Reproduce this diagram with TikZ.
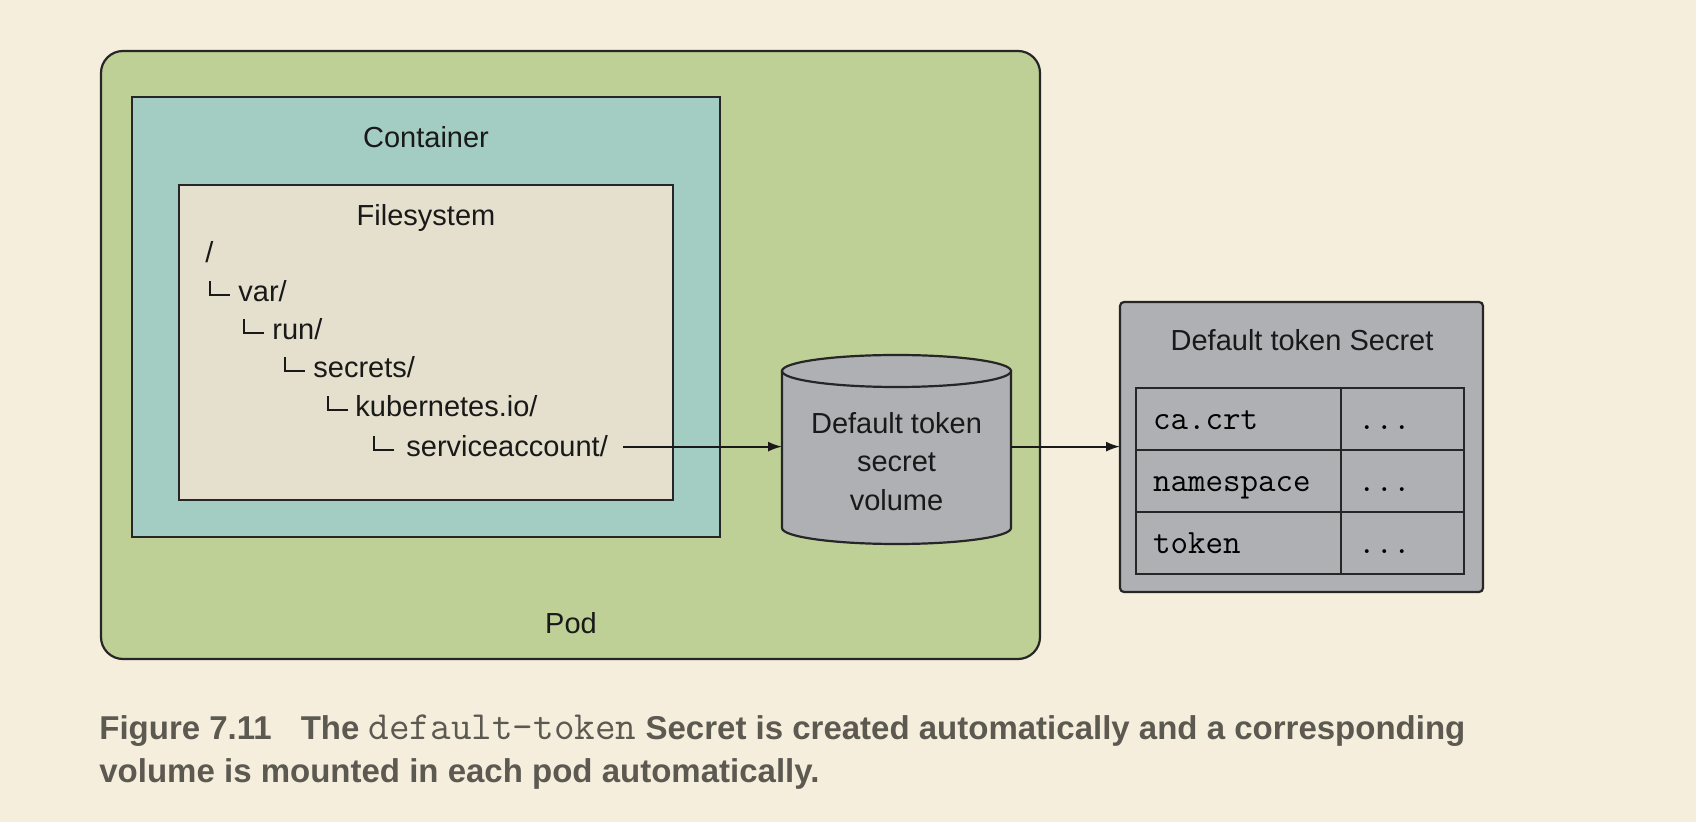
\documentclass[tikz,border=0pt]{standalone}
\usepackage{fontspec}
\setmainfont{Liberation Sans}
\usepackage{xcolor}
\usetikzlibrary{arrows.meta, positioning}

\definecolor{paper}{HTML}{F5EEDD}
\definecolor{podgreen}{HTML}{BED095}
\definecolor{ctrteal}{HTML}{A3CCC2}
\definecolor{fsbeige}{HTML}{E5E0CD}
\definecolor{secgrey}{HTML}{AEB0B4}
\definecolor{capgrey}{HTML}{5C5951}

% tree elbow, then the gap to the name
\newcommand{\elbow}[1][14.5pt]{\makebox[#1][l]{\rule[3pt]{0.9pt}{7.5pt}\rule[3pt]{9.5pt}{0.9pt}}}

\begin{document}
\begin{tikzpicture}[
  x=0.5pt, y=-0.5pt,
  frame/.style = {draw=black!85, line width=1.1pt, inner sep=0pt, outer sep=0pt, anchor=north west},
  lbl/.style   = {font=\fontsize{14.5}{19.25}\selectfont, text=black!90, inner sep=0pt},
  entry/.style = {lbl, anchor=base west},
  cell/.style  = {draw=black!85, line width=1pt, outer sep=0pt, inner xsep=8.5pt, inner ysep=0pt,
                  minimum height=31pt, text height=12pt, text depth=1pt, align=left,
                  font=\ttfamily\fontsize{17}{18}\selectfont},
  link/.style  = {-{Latex[length=7pt,width=5pt]}, line width=0.9pt, draw=black!90}
]
  \fill[paper] (0,0) rectangle (1696,822);
  \useasboundingbox (0,0) rectangle (1696,822);

  % pod, container, filesystem
  \node[frame, fill=podgreen, rounded corners=11pt, minimum width=469.5pt, minimum height=304pt] (pod) at (101,51) {};
  \node[frame, fill=ctrteal, minimum width=294pt, minimum height=220pt]   (ctr) at (132,97) {};
  \node[frame, fill=fsbeige, minimum width=247pt, minimum height=157.5pt] (fs)  at (179,185) {};

  \node[lbl] (podlbl) at (571,623) {Pod};
  \node[lbl] (ctrlbl) at (426,137) {Container};
  \node[lbl] (fslbl)  at (426,218) {Filesystem};

  \node[entry] (root) at (205,263) {/};
  \node[entry] (var)  at (209,302) {\elbow var/};
  \node[entry] (run)  at (243,340) {\elbow run/};
  \node[entry] (sec)  at (284,378) {\elbow secrets/};
  \node[entry] (kube) at (327,417) {\elbow[14pt]kubernetes.io/};
  \node[entry] (svc)  at (373,457) {\elbow[16.5pt]serviceaccount/};

  % secret volume
  \node[minimum width=114.5pt, minimum height=78.5pt, inner sep=0pt, outer sep=0pt] (vol) at (896.5,449.5) {};
  \draw[line width=1.1pt, draw=black!85, fill=secgrey]
    (vol.north west) -- (vol.south west)
    arc[start angle=180, end angle=360, x radius=57.25pt, y radius=8pt]
    -- (vol.north east) -- cycle;
  \draw[line width=1.1pt, draw=black!85, fill=secgrey] (vol.north) ellipse[x radius=57.25pt, y radius=8pt];
  \node[lbl, align=center] (vollbl) at (896.5,461.5) {Default token\\secret\\volume};

  % default token secret
  \node[frame, fill=secgrey, rounded corners=2pt, minimum width=181.5pt, minimum height=145pt] (secret) at (1120,302) {};
  \node[lbl] (seclbl) at (1302,340) {Default token Secret};

  \node[cell, anchor=north west, text width=85.5pt] (ca) at (1136,388) {ca.crt};
  \node[cell, below=0pt of ca, text width=85.5pt] (ns) {namespace};
  \node[cell, below=0pt of ns, text width=85.5pt] (tok) {token};
  \node[cell, right=0pt of ca, text width=44.5pt]  (cav)  {...};
  \node[cell, right=0pt of ns, text width=44.5pt]  (nsv)  {...};
  \node[cell, right=0pt of tok, text width=44.5pt] (tokv) {...};

  \draw[link] ([xshift=7.5pt]svc.east) -- (svc.east -| vol.west);
  \draw[link] (svc.east -| vol.east) -- (svc.east -| secret.west);

  % caption
  \node[anchor=base west, inner sep=0pt, align=left, text=capgrey,
        font=\bfseries\fontsize{16.5}{21.5}\selectfont] (caption) at (99,782)
    {Figure 7.11\hspace{14.5pt}The {\ttfamily\mdseries\fontsize{20}{21.5}\selectfont default-token} Secret is created automatically and a corresponding\\
     volume is mounted in each pod automatically.};
\end{tikzpicture}
\end{document}
